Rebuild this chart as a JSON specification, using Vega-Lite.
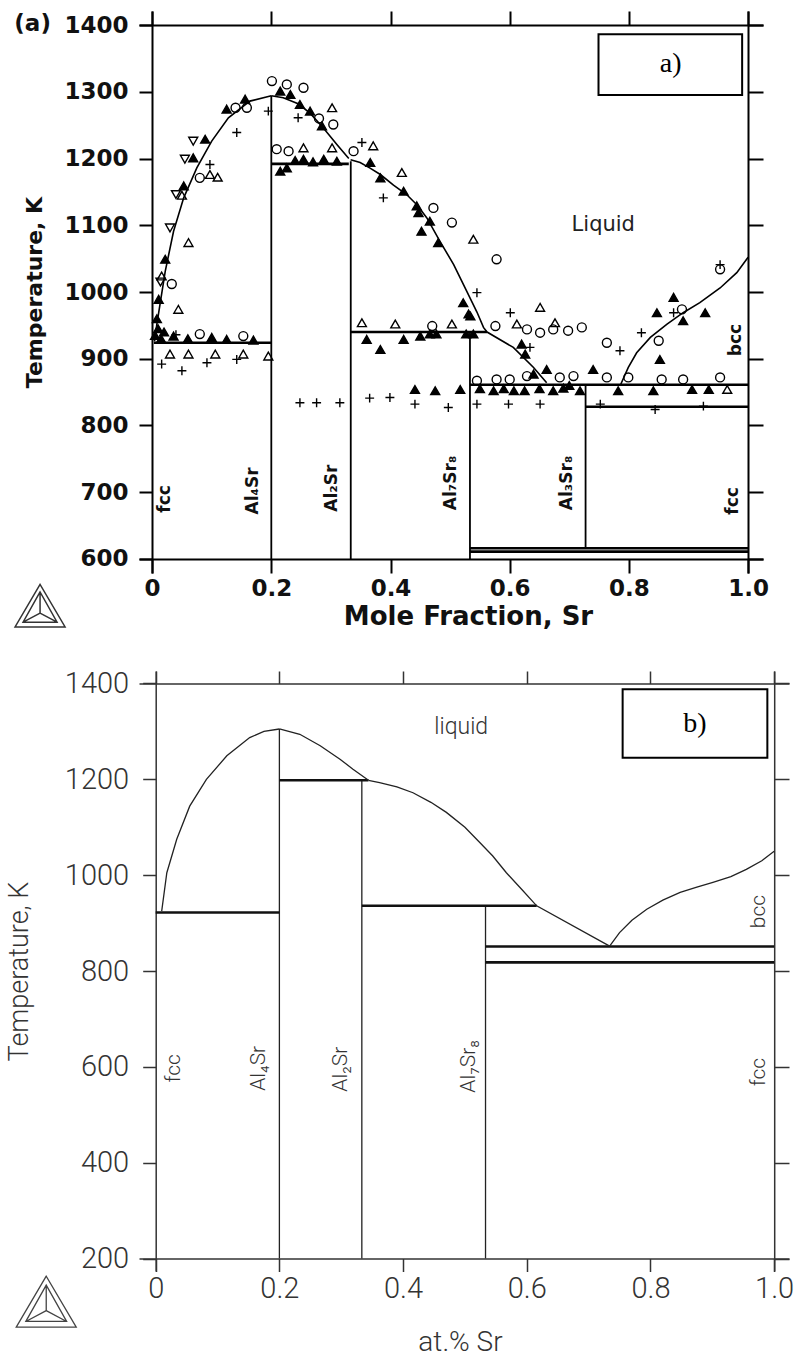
{
  "$schema": "https://vega.github.io/schema/vega-lite/v6.json",
  "background": "white",
  "padding": {"left": 5, "top": 10, "right": 5, "bottom": 5},
  "bounds": "flush",
  "spacing": 98,
  "config": {"view": {"stroke": null}, "font": "DejaVu Sans"},
  "datasets": {
    "top_v": [
      {"x": 0.2, "y": 600, "y2": 1294},
      {"x": 0.3333, "y": 600, "y2": 1196},
      {"x": 0.5333, "y": 600, "y2": 940},
      {"x": 0.7273, "y": 615, "y2": 861}
    ],
    "top_h": [
      {"x": 0.003, "x2": 0.2, "y": 924},
      {"x": 0.2, "x2": 0.33, "y": 1192},
      {"x": 0.3333, "x2": 0.562, "y": 940},
      {"x": 0.5333, "x2": 1, "y": 861},
      {"x": 0.7273, "x2": 1, "y": 828},
      {"x": 0.5333, "x2": 1, "y": 616},
      {"x": 0.5333, "x2": 1, "y": 611}
    ],
    "top_c": [
      {"s": "a", "x": 0.004, "y": 926}, {"s": "a", "x": 0.008, "y": 952}, {"s": "a", "x": 0.022, "y": 1031}, {"s": "a", "x": 0.036, "y": 1091},
      {"s": "a", "x": 0.053, "y": 1141}, {"s": "a", "x": 0.075, "y": 1186}, {"s": "a", "x": 0.1, "y": 1226}, {"s": "a", "x": 0.128, "y": 1261},
      {"s": "a", "x": 0.164, "y": 1286}, {"s": "a", "x": 0.2, "y": 1294},
      {"s": "b", "x": 0.2, "y": 1294}, {"s": "b", "x": 0.22, "y": 1291}, {"s": "b", "x": 0.245, "y": 1282}, {"s": "b", "x": 0.265, "y": 1268},
      {"s": "b", "x": 0.287, "y": 1246}, {"s": "b", "x": 0.31, "y": 1221}, {"s": "b", "x": 0.33, "y": 1200},
      {"s": "c", "x": 0.333, "y": 1198}, {"s": "c", "x": 0.349, "y": 1194}, {"s": "c", "x": 0.365, "y": 1186}, {"s": "c", "x": 0.383, "y": 1176},
      {"s": "c", "x": 0.405, "y": 1160}, {"s": "c", "x": 0.427, "y": 1146}, {"s": "c", "x": 0.445, "y": 1130}, {"s": "c", "x": 0.461, "y": 1111},
      {"s": "c", "x": 0.483, "y": 1076}, {"s": "c", "x": 0.506, "y": 1041}, {"s": "c", "x": 0.528, "y": 1001}, {"s": "c", "x": 0.545, "y": 970},
      {"s": "c", "x": 0.556, "y": 947}, {"s": "c", "x": 0.562, "y": 940}, {"s": "c", "x": 0.606, "y": 917}, {"s": "c", "x": 0.64, "y": 887},
      {"s": "c", "x": 0.662, "y": 864},
      {"s": "d", "x": 0.786, "y": 861}, {"s": "d", "x": 0.799, "y": 887}, {"s": "d", "x": 0.813, "y": 909}, {"s": "d", "x": 0.836, "y": 932},
      {"s": "d", "x": 0.864, "y": 952}, {"s": "d", "x": 0.891, "y": 969}, {"s": "d", "x": 0.919, "y": 984}, {"s": "d", "x": 0.953, "y": 1006},
      {"s": "d", "x": 0.981, "y": 1029}, {"s": "d", "x": 1.0, "y": 1052}
    ],
    "top_p": [
      {"k": "co", "x": 0.201, "y": 1316}, {"k": "co", "x": 0.226, "y": 1311}, {"k": "co", "x": 0.254, "y": 1306}, {"k": "co", "x": 0.159, "y": 1276},
      {"k": "co", "x": 0.14, "y": 1276}, {"k": "co", "x": 0.304, "y": 1251}, {"k": "co", "x": 0.08, "y": 1171}, {"k": "co", "x": 0.033, "y": 1012},
      {"k": "co", "x": 0.08, "y": 937}, {"k": "co", "x": 0.153, "y": 934}, {"k": "co", "x": 0.209, "y": 1214}, {"k": "co", "x": 0.229, "y": 1211},
      {"k": "co", "x": 0.338, "y": 1211}, {"k": "co", "x": 0.472, "y": 1126}, {"k": "co", "x": 0.503, "y": 1104}, {"k": "co", "x": 0.578, "y": 1049},
      {"k": "co", "x": 0.47, "y": 949}, {"k": "co", "x": 0.576, "y": 949}, {"k": "co", "x": 0.629, "y": 944}, {"k": "co", "x": 0.651, "y": 939},
      {"k": "co", "x": 0.673, "y": 944}, {"k": "co", "x": 0.698, "y": 942}, {"k": "co", "x": 0.721, "y": 947}, {"k": "co", "x": 0.545, "y": 867},
      {"k": "co", "x": 0.578, "y": 869}, {"k": "co", "x": 0.6, "y": 869}, {"k": "co", "x": 0.629, "y": 874}, {"k": "co", "x": 0.684, "y": 872},
      {"k": "co", "x": 0.707, "y": 874}, {"k": "co", "x": 0.763, "y": 872}, {"k": "co", "x": 0.799, "y": 872}, {"k": "co", "x": 0.855, "y": 869},
      {"k": "co", "x": 0.891, "y": 869}, {"k": "co", "x": 0.953, "y": 872}, {"k": "co", "x": 0.763, "y": 924}, {"k": "co", "x": 0.889, "y": 974},
      {"k": "co", "x": 0.85, "y": 927}, {"k": "co", "x": 0.953, "y": 1034}, {"k": "co", "x": 0.28, "y": 1260},
      {"k": "to", "x": 0.302, "y": 1276}, {"k": "to", "x": 0.097, "y": 1176}, {"k": "to", "x": 0.061, "y": 1074}, {"k": "to", "x": 0.016, "y": 1024},
      {"k": "to", "x": 0.044, "y": 974}, {"k": "to", "x": 0.03, "y": 907}, {"k": "to", "x": 0.061, "y": 907}, {"k": "to", "x": 0.106, "y": 907},
      {"k": "to", "x": 0.153, "y": 907}, {"k": "to", "x": 0.195, "y": 904}, {"k": "to", "x": 0.254, "y": 1216}, {"k": "to", "x": 0.302, "y": 1216},
      {"k": "to", "x": 0.371, "y": 1219}, {"k": "to", "x": 0.419, "y": 1179}, {"k": "to", "x": 0.539, "y": 1079}, {"k": "to", "x": 0.651, "y": 977},
      {"k": "to", "x": 0.352, "y": 954}, {"k": "to", "x": 0.408, "y": 952}, {"k": "to", "x": 0.503, "y": 952}, {"k": "to", "x": 0.612, "y": 952},
      {"k": "to", "x": 0.676, "y": 954}, {"k": "to", "x": 0.965, "y": 854}, {"k": "to", "x": 0.11, "y": 1172}, {"k": "to", "x": 0.05, "y": 1145},
      {"k": "tf", "x": 0.215, "y": 1301}, {"k": "tf", "x": 0.232, "y": 1296}, {"k": "tf", "x": 0.248, "y": 1281}, {"k": "tf", "x": 0.265, "y": 1271},
      {"k": "tf", "x": 0.285, "y": 1249}, {"k": "tf", "x": 0.125, "y": 1274}, {"k": "tf", "x": 0.156, "y": 1289}, {"k": "tf", "x": 0.089, "y": 1229},
      {"k": "tf", "x": 0.069, "y": 1201}, {"k": "tf", "x": 0.053, "y": 1159}, {"k": "tf", "x": 0.022, "y": 1049}, {"k": "tf", "x": 0.011, "y": 989},
      {"k": "tf", "x": 0.036, "y": 934}, {"k": "tf", "x": 0.125, "y": 929}, {"k": "tf", "x": 0.254, "y": 1199}, {"k": "tf", "x": 0.288, "y": 1199},
      {"k": "tf", "x": 0.215, "y": 1181}, {"k": "tf", "x": 0.226, "y": 1186}, {"k": "tf", "x": 0.005, "y": 935}, {"k": "tf", "x": 0.01, "y": 945},
      {"k": "tf", "x": 0.015, "y": 930}, {"k": "tf", "x": 0.008, "y": 960}, {"k": "tf", "x": 0.02, "y": 940}, {"k": "tf", "x": 0.06, "y": 930},
      {"k": "tf", "x": 0.1, "y": 932}, {"k": "tf", "x": 0.17, "y": 928}, {"k": "tf", "x": 0.27, "y": 1195}, {"k": "tf", "x": 0.31, "y": 1196},
      {"k": "tf", "x": 0.24, "y": 1197}, {"k": "tf", "x": 0.366, "y": 1194}, {"k": "tf", "x": 0.383, "y": 1171}, {"k": "tf", "x": 0.422, "y": 1151},
      {"k": "tf", "x": 0.444, "y": 1129}, {"k": "tf", "x": 0.447, "y": 1119}, {"k": "tf", "x": 0.466, "y": 1106}, {"k": "tf", "x": 0.452, "y": 1091},
      {"k": "tf", "x": 0.48, "y": 1074}, {"k": "tf", "x": 0.522, "y": 984}, {"k": "tf", "x": 0.534, "y": 964}, {"k": "tf", "x": 0.36, "y": 929},
      {"k": "tf", "x": 0.383, "y": 914}, {"k": "tf", "x": 0.422, "y": 929}, {"k": "tf", "x": 0.466, "y": 937}, {"k": "tf", "x": 0.477, "y": 937},
      {"k": "tf", "x": 0.527, "y": 937}, {"k": "tf", "x": 0.539, "y": 937}, {"k": "tf", "x": 0.45, "y": 934}, {"k": "tf", "x": 0.62, "y": 922},
      {"k": "tf", "x": 0.626, "y": 907}, {"k": "tf", "x": 0.441, "y": 854}, {"k": "tf", "x": 0.475, "y": 852}, {"k": "tf", "x": 0.517, "y": 854},
      {"k": "tf", "x": 0.64, "y": 877}, {"k": "tf", "x": 0.662, "y": 884}, {"k": "tf", "x": 0.74, "y": 884}, {"k": "tf", "x": 0.573, "y": 852},
      {"k": "tf", "x": 0.607, "y": 852}, {"k": "tf", "x": 0.625, "y": 852}, {"k": "tf", "x": 0.673, "y": 852}, {"k": "tf", "x": 0.718, "y": 852},
      {"k": "tf", "x": 0.782, "y": 852}, {"k": "tf", "x": 0.841, "y": 852}, {"k": "tf", "x": 0.906, "y": 854}, {"k": "tf", "x": 0.934, "y": 854},
      {"k": "tf", "x": 0.847, "y": 969}, {"k": "tf", "x": 0.875, "y": 992}, {"k": "tf", "x": 0.891, "y": 957}, {"k": "tf", "x": 0.928, "y": 969},
      {"k": "tf", "x": 0.852, "y": 899}, {"k": "tf", "x": 0.55, "y": 855}, {"k": "tf", "x": 0.59, "y": 855}, {"k": "tf", "x": 0.65, "y": 855},
      {"k": "tf", "x": 0.69, "y": 856}, {"k": "tf", "x": 0.7, "y": 860}, {"k": "tf", "x": 0.531, "y": 967},
      {"k": "td", "x": 0.069, "y": 1226}, {"k": "td", "x": 0.055, "y": 1199}, {"k": "td", "x": 0.04, "y": 1146}, {"k": "td", "x": 0.03, "y": 1096},
      {"k": "td", "x": 0.014, "y": 1015},
      {"k": "p", "x": 0.245, "y": 1261}, {"k": "p", "x": 0.195, "y": 1271}, {"k": "p", "x": 0.142, "y": 1239}, {"k": "p", "x": 0.097, "y": 1191},
      {"k": "p", "x": 0.016, "y": 892}, {"k": "p", "x": 0.05, "y": 882}, {"k": "p", "x": 0.092, "y": 894}, {"k": "p", "x": 0.142, "y": 899},
      {"k": "p", "x": 0.04, "y": 936}, {"k": "p", "x": 0.352, "y": 1224}, {"k": "p", "x": 0.388, "y": 1141}, {"k": "p", "x": 0.545, "y": 999},
      {"k": "p", "x": 0.601, "y": 969}, {"k": "p", "x": 0.634, "y": 917}, {"k": "p", "x": 0.399, "y": 842}, {"k": "p", "x": 0.441, "y": 832},
      {"k": "p", "x": 0.497, "y": 827}, {"k": "p", "x": 0.545, "y": 832}, {"k": "p", "x": 0.598, "y": 832}, {"k": "p", "x": 0.651, "y": 832},
      {"k": "p", "x": 0.752, "y": 832}, {"k": "p", "x": 0.844, "y": 824}, {"k": "p", "x": 0.925, "y": 829}, {"k": "p", "x": 0.785, "y": 912},
      {"k": "p", "x": 0.821, "y": 939}, {"k": "p", "x": 0.875, "y": 969}, {"k": "p", "x": 0.953, "y": 1041}, {"k": "p", "x": 0.248, "y": 834},
      {"k": "p", "x": 0.276, "y": 834}, {"k": "p", "x": 0.315, "y": 834}, {"k": "p", "x": 0.365, "y": 841}
    ],
    "top_lab": [
      {"x": 0.022, "y": 690, "t": "fcc"}, {"x": 0.17, "y": 702, "t": "Al₄Sr"}, {"x": 0.302, "y": 706, "t": "Al₂Sr"},
      {"x": 0.502, "y": 714, "t": "Al₇Sr₈"}, {"x": 0.696, "y": 714, "t": "Al₃Sr₈"}, {"x": 0.975, "y": 687, "t": "fcc"},
      {"x": 0.98, "y": 928, "t": "bcc"}
    ],
    "top_txt": [
      {"x": 0.757, "y": 1100, "t": "Liquid"}
    ],
    "top_a": [
      {"x": -0.2005, "y": 1401, "t": "(a)"}
    ],
    "top_box": [
      {"x": 0.749, "x2": 0.99, "y": 1295, "y2": 1386, "t": "a)", "xc": 0.87, "yc": 1341}
    ],
    "top_logo": [
      {"x": -0.188, "y": 530}
    ],
    "bot_v": [
      {"x": 0.2, "y": 200, "y2": 1305},
      {"x": 0.3333, "y": 200, "y2": 1198},
      {"x": 0.5333, "y": 200, "y2": 936}
    ],
    "bot_h": [
      {"x": 0.0, "x2": 0.2, "y": 922},
      {"x": 0.2, "x2": 0.344, "y": 1198},
      {"x": 0.3333, "x2": 0.616, "y": 936},
      {"x": 0.5333, "x2": 1, "y": 851},
      {"x": 0.5333, "x2": 1, "y": 818}
    ],
    "bot_c": [
      {"s": "a", "x": 0.0097, "y": 925}, {"s": "a", "x": 0.018, "y": 1005}, {"s": "a", "x": 0.034, "y": 1075}, {"s": "a", "x": 0.055, "y": 1144},
      {"s": "a", "x": 0.082, "y": 1200}, {"s": "a", "x": 0.115, "y": 1249}, {"s": "a", "x": 0.152, "y": 1287}, {"s": "a", "x": 0.175, "y": 1300},
      {"s": "a", "x": 0.2, "y": 1305},
      {"s": "b", "x": 0.2, "y": 1305}, {"s": "b", "x": 0.233, "y": 1294}, {"s": "b", "x": 0.266, "y": 1270}, {"s": "b", "x": 0.298, "y": 1242},
      {"s": "b", "x": 0.319, "y": 1221}, {"s": "b", "x": 0.344, "y": 1198},
      {"s": "c", "x": 0.344, "y": 1198}, {"s": "c", "x": 0.362, "y": 1193}, {"s": "c", "x": 0.39, "y": 1184}, {"s": "c", "x": 0.416, "y": 1172},
      {"s": "c", "x": 0.445, "y": 1152}, {"s": "c", "x": 0.47, "y": 1131}, {"s": "c", "x": 0.5, "y": 1100}, {"s": "c", "x": 0.524, "y": 1068},
      {"s": "c", "x": 0.545, "y": 1040}, {"s": "c", "x": 0.567, "y": 1005}, {"s": "c", "x": 0.592, "y": 970}, {"s": "c", "x": 0.616, "y": 936},
      {"s": "c", "x": 0.734, "y": 852},
      {"s": "d", "x": 0.734, "y": 852}, {"s": "d", "x": 0.75, "y": 880}, {"s": "d", "x": 0.77, "y": 906}, {"s": "d", "x": 0.794, "y": 929},
      {"s": "d", "x": 0.82, "y": 948}, {"s": "d", "x": 0.848, "y": 964}, {"s": "d", "x": 0.875, "y": 975}, {"s": "d", "x": 0.901, "y": 985},
      {"s": "d", "x": 0.93, "y": 997}, {"s": "d", "x": 0.955, "y": 1012}, {"s": "d", "x": 0.98, "y": 1030}, {"s": "d", "x": 1.0, "y": 1050}
    ],
    "bot_lab": [
      {"x": 0.03, "y": 597, "t": "fcc"}, {"x": 0.167, "y": 597, "t": "Al₄Sr"}, {"x": 0.3, "y": 595, "t": "Al₂Sr"},
      {"x": 0.506, "y": 601, "t": "Al₇Sr₈"}, {"x": 0.975, "y": 589, "t": "fcc"}, {"x": 0.975, "y": 924, "t": "bcc"}
    ],
    "bot_txt": [
      {"x": 0.494, "y": 1310, "t": "liquid"}
    ],
    "bot_box": [
      {"x": 0.755, "x2": 0.989, "y": 1245, "y2": 1388, "t": "b)", "xc": 0.872, "yc": 1316}
    ],
    "bot_logo": [
      {"x": -0.177, "y": 110}
    ]
  },
  "vconcat": [
    {
      "width": 624,
      "height": 562,
      "resolve": {"axis": {"x": "independent", "y": "independent"}},
      "layer": [
        {
          "data": {"name": "top_v"},
          "mark": {"type": "rule", "color": "black", "strokeWidth": 1.8},
          "encoding": {
            "x": {"field": "x", "type": "quantitative", "scale": {"domain": [-0.022, 1.025], "nice": false, "zero": false},
              "axis": {"orient": "bottom", "offset": -14, "values": [0, 0.2, 0.4, 0.6, 0.8, 1], "labelExpr": "datum.value == 0 ? '0' : format(datum.value, '.1f')",
                "tickSize": 14, "tickWidth": 2, "tickColor": "black", "domainColor": "black", "domainWidth": 2, "grid": false,
                "labelFont": "DejaVu Sans", "labelFontWeight": "bold", "labelFontSize": 23, "labelColor": "#111", "labelPadding": 4, "labelFlush": false, "labelOverlap": false,
                "title": "Mole Fraction, Sr", "titleFont": "DejaVu Sans", "titleFontWeight": "bold", "titleFontSize": 26, "titleColor": "#111", "titlePadding": 3, "titleX": 329}},
            "y": {"field": "y", "type": "quantitative", "scale": {"domain": [579, 1421], "nice": false, "zero": false},
              "axis": {"orient": "left", "offset": -13, "values": [600, 700, 800, 900, 1000, 1100, 1200, 1300, 1400], "format": "d",
                "tickSize": 13, "tickWidth": 2, "tickColor": "black", "domainColor": "black", "domainWidth": 2, "grid": false,
                "labelFont": "DejaVu Sans", "labelFontWeight": "bold", "labelFontSize": 23, "labelColor": "#111", "labelPadding": 11, "labelFlush": false, "labelOverlap": false,
                "title": "Temperature, K", "titleFont": "DejaVu Sans", "titleFontWeight": "bold", "titleFontSize": 22, "titleColor": "#111", "titlePadding": 17}},
            "y2": {"field": "y2"}
          }
        },
        {
          "data": {"name": "top_h"},
          "mark": {"type": "rule", "color": "black", "strokeWidth": 2.6},
          "encoding": {
            "x": {"field": "x", "type": "quantitative", "axis": null},
            "x2": {"field": "x2"},
            "y": {"field": "y", "type": "quantitative", "axis": null}
          }
        },
        {
          "data": {"name": "top_c"},
          "mark": {"type": "line", "color": "black", "strokeWidth": 1.6},
          "encoding": {
            "x": {"field": "x", "type": "quantitative", "axis": null},
            "y": {"field": "y", "type": "quantitative", "axis": null},
            "detail": {"field": "s"}
          }
        },
        {
          "data": {"name": "top_p"},
          "mark": {"type": "point", "filled": false, "size": 80, "strokeWidth": 1.4, "stroke": "black", "opacity": 1},
          "encoding": {
            "x": {"field": "x", "type": "quantitative", "axis": null},
            "y": {"field": "y", "type": "quantitative", "axis": null},
            "shape": {"field": "k", "type": "nominal", "legend": null,
              "scale": {"domain": ["co", "to", "tf", "td", "p"], "range": ["circle", "triangle-up", "triangle-up", "triangle-down", "M-1,0H1M0,-1V1"]}},
            "fill": {"field": "k", "type": "nominal", "legend": null,
              "scale": {"domain": ["co", "to", "tf", "td", "p"], "range": ["transparent", "transparent", "black", "transparent", "transparent"]}}
          }
        },
        {
          "data": {"name": "top_lab"},
          "mark": {"type": "text", "angle": 270, "align": "center", "baseline": "middle", "font": "DejaVu Sans", "fontWeight": "bold", "fontSize": 17, "color": "#111"},
          "encoding": {
            "x": {"field": "x", "type": "quantitative", "axis": null},
            "y": {"field": "y", "type": "quantitative", "axis": null},
            "text": {"field": "t"}
          }
        },
        {
          "data": {"name": "top_txt"},
          "mark": {"type": "text", "align": "center", "baseline": "middle", "font": "DejaVu Sans", "fontSize": 21, "color": "#222"},
          "encoding": {
            "x": {"field": "x", "type": "quantitative", "axis": null},
            "y": {"field": "y", "type": "quantitative", "axis": null},
            "text": {"field": "t"}
          }
        },
        {
          "data": {"name": "top_a"},
          "mark": {"type": "text", "align": "center", "baseline": "middle", "font": "DejaVu Sans", "fontWeight": "bold", "fontSize": 23, "color": "#111"},
          "encoding": {
            "x": {"field": "x", "type": "quantitative", "axis": null},
            "y": {"field": "y", "type": "quantitative", "axis": null},
            "text": {"field": "t"}
          }
        },
        {
          "data": {"name": "top_box"},
          "mark": {"type": "rect", "fill": "white", "stroke": "black", "strokeWidth": 2},
          "encoding": {
            "x": {"field": "x", "type": "quantitative",
              "axis": {"orient": "top", "offset": -14, "values": [0, 0.2, 0.4, 0.6, 0.8, 1], "tickSize": 14, "tickWidth": 2, "tickColor": "black", "domainColor": "black", "domainWidth": 2, "labels": false, "title": null, "grid": false}},
            "x2": {"field": "x2"},
            "y": {"field": "y", "type": "quantitative",
              "axis": {"orient": "right", "offset": -15, "values": [600, 700, 800, 900, 1000, 1100, 1200, 1300, 1400], "tickSize": 15, "tickWidth": 2, "tickColor": "black", "domainColor": "black", "domainWidth": 2, "labels": false, "title": null, "grid": false}},
            "y2": {"field": "y2"}
          }
        },
        {
          "data": {"name": "top_box"},
          "mark": {"type": "text", "align": "center", "baseline": "middle", "font": "Liberation Serif", "fontSize": 28, "color": "black"},
          "encoding": {
            "x": {"field": "xc", "type": "quantitative", "axis": null},
            "y": {"field": "yc", "type": "quantitative", "axis": null},
            "text": {"field": "t"}
          }
        },
        {
          "data": {"name": "top_logo"},
          "mark": {"type": "point", "shape": "M0,-0.85L-1,0.85L1,0.85Z M0,-0.55L-0.68,0.66L0.68,0.66Z M0,-0.55L0,0.3 M-0.68,0.66L0,0.3 M0.68,0.66L0,0.3", "size": 2500, "filled": false, "stroke": "#333", "strokeWidth": 1.5, "opacity": 1},
          "encoding": {
            "x": {"field": "x", "type": "quantitative", "axis": null},
            "y": {"field": "y", "type": "quantitative", "axis": null}
          }
        }
      ]
    },
    {
      "width": 650,
      "height": 600,
      "resolve": {"axis": {"x": "independent", "y": "independent"}},
      "layer": [
        {
          "data": {"name": "bot_v"},
          "mark": {"type": "rule", "color": "#222", "strokeWidth": 1.3},
          "encoding": {
            "x": {"field": "x", "type": "quantitative", "scale": {"domain": [-0.027, 1.024], "nice": false, "zero": false},
              "axis": {"orient": "bottom", "offset": -12.5, "values": [0, 0.2, 0.4, 0.6, 0.8, 1], "labelExpr": "datum.value == 0 ? '0' : format(datum.value, '.1f')",
                "tickSize": 13, "tickWidth": 1.5, "tickColor": "#333", "domainColor": "#333", "domainWidth": 1.5, "grid": false,
                "labelFont": "Roboto", "labelFontWeight": 300, "labelFontSize": 29, "labelColor": "#333", "labelPadding": 3, "labelFlush": false, "labelOverlap": false,
                "title": "at.% Sr", "titleFont": "Roboto", "titleFontWeight": 300, "titleFontSize": 28, "titleColor": "#333", "titlePadding": 25, "titleX": 321}},
            "y": {"field": "y", "type": "quantitative", "scale": {"domain": [174, 1426], "nice": false, "zero": false},
              "axis": {"orient": "left", "offset": -16.7, "values": [200, 400, 600, 800, 1000, 1200, 1400], "format": "d",
                "tickSize": 13, "tickWidth": 1.5, "tickColor": "#333", "domainColor": "#333", "domainWidth": 1.5, "grid": false,
                "labelFont": "Roboto", "labelFontWeight": 300, "labelFontSize": 29, "labelColor": "#333", "labelPadding": 14, "labelFlush": false, "labelOverlap": false,
                "title": "Temperature, K", "titleFont": "Roboto", "titleFontWeight": 300, "titleFontSize": 27, "titleColor": "#333", "titlePadding": 31}},
            "y2": {"field": "y2"}
          }
        },
        {
          "data": {"name": "bot_h"},
          "mark": {"type": "rule", "color": "#111", "strokeWidth": 2.6},
          "encoding": {
            "x": {"field": "x", "type": "quantitative", "axis": null},
            "x2": {"field": "x2"},
            "y": {"field": "y", "type": "quantitative", "axis": null}
          }
        },
        {
          "data": {"name": "bot_c"},
          "mark": {"type": "line", "color": "#222", "strokeWidth": 1.3},
          "encoding": {
            "x": {"field": "x", "type": "quantitative", "axis": null},
            "y": {"field": "y", "type": "quantitative", "axis": null},
            "detail": {"field": "s"}
          }
        },
        {
          "data": {"name": "bot_lab"},
          "mark": {"type": "text", "angle": 270, "align": "center", "baseline": "middle", "font": "Roboto", "fontWeight": 300, "fontSize": 21, "color": "#333"},
          "encoding": {
            "x": {"field": "x", "type": "quantitative", "axis": null},
            "y": {"field": "y", "type": "quantitative", "axis": null},
            "text": {"field": "t"}
          }
        },
        {
          "data": {"name": "bot_txt"},
          "mark": {"type": "text", "align": "center", "baseline": "middle", "font": "Roboto", "fontWeight": 300, "fontSize": 23, "color": "#333"},
          "encoding": {
            "x": {"field": "x", "type": "quantitative", "axis": null},
            "y": {"field": "y", "type": "quantitative", "axis": null},
            "text": {"field": "t"}
          }
        },
        {
          "data": {"name": "bot_box"},
          "mark": {"type": "rect", "fill": "white", "stroke": "black", "strokeWidth": 2},
          "encoding": {
            "x": {"field": "x", "type": "quantitative",
              "axis": {"orient": "top", "offset": -12.5, "values": [0, 0.2, 0.4, 0.6, 0.8, 1], "tickSize": 12.5, "tickWidth": 1.5, "tickColor": "#333", "domainColor": "#333", "domainWidth": 1.5, "labels": false, "title": null, "grid": false}},
            "x2": {"field": "x2"},
            "y": {"field": "y", "type": "quantitative",
              "axis": {"orient": "right", "offset": -14.8, "values": [200, 400, 600, 800, 1000, 1200, 1400], "tickSize": 14.8, "tickWidth": 1.5, "tickColor": "#333", "domainColor": "#333", "domainWidth": 1.5, "labels": false, "title": null, "grid": false}},
            "y2": {"field": "y2"}
          }
        },
        {
          "data": {"name": "bot_box"},
          "mark": {"type": "text", "align": "center", "baseline": "middle", "font": "Liberation Serif", "fontSize": 28, "color": "black"},
          "encoding": {
            "x": {"field": "xc", "type": "quantitative", "axis": null},
            "y": {"field": "yc", "type": "quantitative", "axis": null},
            "text": {"field": "t"}
          }
        },
        {
          "data": {"name": "bot_logo"},
          "mark": {"type": "point", "shape": "M0,-0.85L-1,0.85L1,0.85Z M0,-0.55L-0.68,0.66L0.68,0.66Z M0,-0.55L0,0.3 M-0.68,0.66L0,0.3 M0.68,0.66L0,0.3", "size": 3600, "filled": false, "stroke": "#444", "strokeWidth": 1.3, "opacity": 1},
          "encoding": {
            "x": {"field": "x", "type": "quantitative", "axis": null},
            "y": {"field": "y", "type": "quantitative", "axis": null}
          }
        }
      ]
    }
  ]
}
